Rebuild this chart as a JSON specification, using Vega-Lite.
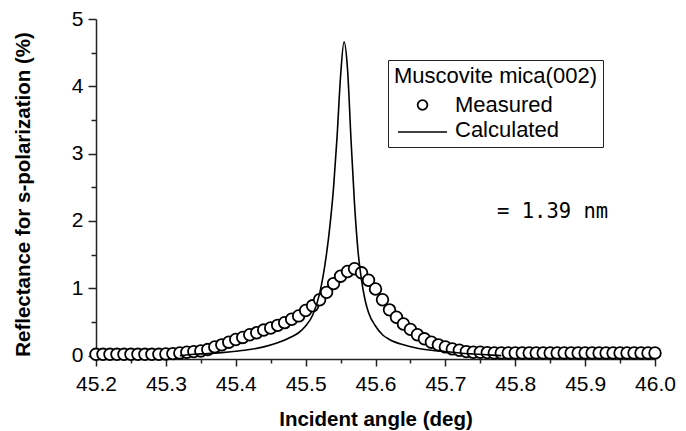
{
  "$schema": "https://vega.github.io/schema/vega-lite/v6.json",
  "width": 559,
  "height": 340,
  "autosize": {"type": "none"},
  "padding": {"left": 96, "top": 19, "right": 31, "bottom": 72},
  "background": "white",
  "config": {"view": {"stroke": null}, "font": "Liberation Sans"},
  "datasets": {
    "measured": [
      {"angle": 45.20, "reflectance": 0.02}, {"angle": 45.21, "reflectance": 0.02}, {"angle": 45.22, "reflectance": 0.02},
      {"angle": 45.23, "reflectance": 0.02}, {"angle": 45.24, "reflectance": 0.02}, {"angle": 45.25, "reflectance": 0.02},
      {"angle": 45.26, "reflectance": 0.02}, {"angle": 45.27, "reflectance": 0.02}, {"angle": 45.28, "reflectance": 0.02},
      {"angle": 45.29, "reflectance": 0.02}, {"angle": 45.30, "reflectance": 0.025}, {"angle": 45.31, "reflectance": 0.03},
      {"angle": 45.32, "reflectance": 0.04}, {"angle": 45.33, "reflectance": 0.05}, {"angle": 45.34, "reflectance": 0.06},
      {"angle": 45.35, "reflectance": 0.07}, {"angle": 45.36, "reflectance": 0.09}, {"angle": 45.37, "reflectance": 0.13},
      {"angle": 45.38, "reflectance": 0.16}, {"angle": 45.39, "reflectance": 0.20}, {"angle": 45.40, "reflectance": 0.24},
      {"angle": 45.41, "reflectance": 0.27}, {"angle": 45.42, "reflectance": 0.31}, {"angle": 45.43, "reflectance": 0.34},
      {"angle": 45.44, "reflectance": 0.38}, {"angle": 45.45, "reflectance": 0.41}, {"angle": 45.46, "reflectance": 0.45},
      {"angle": 45.47, "reflectance": 0.49}, {"angle": 45.48, "reflectance": 0.54}, {"angle": 45.49, "reflectance": 0.59},
      {"angle": 45.50, "reflectance": 0.67}, {"angle": 45.51, "reflectance": 0.74}, {"angle": 45.52, "reflectance": 0.83},
      {"angle": 45.53, "reflectance": 0.94}, {"angle": 45.54, "reflectance": 1.07}, {"angle": 45.55, "reflectance": 1.18},
      {"angle": 45.56, "reflectance": 1.25}, {"angle": 45.57, "reflectance": 1.29}, {"angle": 45.58, "reflectance": 1.23},
      {"angle": 45.59, "reflectance": 1.12}, {"angle": 45.60, "reflectance": 0.99}, {"angle": 45.61, "reflectance": 0.83},
      {"angle": 45.62, "reflectance": 0.68}, {"angle": 45.63, "reflectance": 0.57}, {"angle": 45.64, "reflectance": 0.47},
      {"angle": 45.65, "reflectance": 0.39}, {"angle": 45.66, "reflectance": 0.31}, {"angle": 45.67, "reflectance": 0.25},
      {"angle": 45.68, "reflectance": 0.20}, {"angle": 45.69, "reflectance": 0.16}, {"angle": 45.70, "reflectance": 0.13},
      {"angle": 45.71, "reflectance": 0.10}, {"angle": 45.72, "reflectance": 0.08}, {"angle": 45.73, "reflectance": 0.06},
      {"angle": 45.74, "reflectance": 0.05}, {"angle": 45.75, "reflectance": 0.05}, {"angle": 45.76, "reflectance": 0.045},
      {"angle": 45.77, "reflectance": 0.04}, {"angle": 45.78, "reflectance": 0.04}, {"angle": 45.79, "reflectance": 0.04},
      {"angle": 45.80, "reflectance": 0.04}, {"angle": 45.81, "reflectance": 0.04}, {"angle": 45.82, "reflectance": 0.04},
      {"angle": 45.83, "reflectance": 0.04}, {"angle": 45.84, "reflectance": 0.04}, {"angle": 45.85, "reflectance": 0.04},
      {"angle": 45.86, "reflectance": 0.04}, {"angle": 45.87, "reflectance": 0.04}, {"angle": 45.88, "reflectance": 0.04},
      {"angle": 45.89, "reflectance": 0.04}, {"angle": 45.90, "reflectance": 0.04}, {"angle": 45.91, "reflectance": 0.04},
      {"angle": 45.92, "reflectance": 0.04}, {"angle": 45.93, "reflectance": 0.04}, {"angle": 45.94, "reflectance": 0.04},
      {"angle": 45.95, "reflectance": 0.04}, {"angle": 45.96, "reflectance": 0.04}, {"angle": 45.97, "reflectance": 0.04},
      {"angle": 45.98, "reflectance": 0.04}, {"angle": 45.99, "reflectance": 0.04}, {"angle": 46.00, "reflectance": 0.04}
    ],
    "calculated": [
      {"angle": 45.32, "reflectance": 0.0}, {"angle": 45.34, "reflectance": 0.02}, {"angle": 45.36, "reflectance": 0.03},
      {"angle": 45.38, "reflectance": 0.045}, {"angle": 45.40, "reflectance": 0.065}, {"angle": 45.42, "reflectance": 0.09},
      {"angle": 45.44, "reflectance": 0.13}, {"angle": 45.46, "reflectance": 0.19}, {"angle": 45.48, "reflectance": 0.28},
      {"angle": 45.49, "reflectance": 0.34}, {"angle": 45.50, "reflectance": 0.44}, {"angle": 45.51, "reflectance": 0.60},
      {"angle": 45.52, "reflectance": 0.92}, {"angle": 45.525, "reflectance": 1.18}, {"angle": 45.53, "reflectance": 1.52},
      {"angle": 45.535, "reflectance": 1.95}, {"angle": 45.54, "reflectance": 2.50}, {"angle": 45.545, "reflectance": 3.25},
      {"angle": 45.55, "reflectance": 4.15}, {"angle": 45.555, "reflectance": 4.66}, {"angle": 45.56, "reflectance": 4.25},
      {"angle": 45.565, "reflectance": 3.20}, {"angle": 45.57, "reflectance": 2.25}, {"angle": 45.575, "reflectance": 1.55},
      {"angle": 45.58, "reflectance": 1.12}, {"angle": 45.585, "reflectance": 0.83}, {"angle": 45.59, "reflectance": 0.64},
      {"angle": 45.60, "reflectance": 0.44}, {"angle": 45.61, "reflectance": 0.31}, {"angle": 45.62, "reflectance": 0.24},
      {"angle": 45.64, "reflectance": 0.16}, {"angle": 45.66, "reflectance": 0.11}, {"angle": 45.68, "reflectance": 0.08},
      {"angle": 45.70, "reflectance": 0.06}, {"angle": 45.72, "reflectance": 0.04}, {"angle": 45.74, "reflectance": 0.025},
      {"angle": 45.76, "reflectance": 0.012}, {"angle": 45.78, "reflectance": 0.0}
    ]
  },
  "layer": [
    {
      "data": {"name": "measured"},
      "mark": {"type": "point", "filled": false, "fill": "white", "fillOpacity": 1, "stroke": "black", "strokeWidth": 1.8, "size": 135, "opacity": 1},
      "encoding": {
        "x": {
          "field": "angle", "type": "quantitative",
          "scale": {"domain": [45.2, 46.0], "nice": false, "zero": false},
          "axis": {
            "orient": "bottom",
            "values": [45.2, 45.3, 45.4, 45.5, 45.6, 45.7, 45.8, 45.9, 46.0],
            "format": ".1f", "grid": false,
            "labelFont": "Liberation Sans", "labelFontSize": 21, "labelColor": "black", "labelPadding": 7,
            "labelFlush": false, "labelOverlap": false,
            "tickSize": 7, "tickWidth": 1.5, "tickColor": "#222",
            "domainColor": "#222", "domainWidth": 1.5,
            "title": "Incident angle (deg)", "titleFont": "Liberation Sans", "titleFontSize": 20.5,
            "titleFontWeight": "bold", "titleColor": "black",
            "titleBaseline": "alphabetic", "titleY": 66
          }
        },
        "y": {
          "field": "reflectance", "type": "quantitative",
          "scale": {"domain": [-0.05, 5], "nice": false, "zero": false},
          "axis": {
            "orient": "left",
            "values": [0, 1, 2, 3, 4, 5],
            "format": "d", "grid": false,
            "labelFont": "Liberation Sans", "labelFontSize": 21, "labelColor": "black", "labelPadding": 5,
            "labelFlush": false, "labelOverlap": false,
            "tickSize": 8, "tickWidth": 1.5, "tickColor": "#222",
            "domainColor": "#222", "domainWidth": 1.5,
            "title": "Reflectance for s-polarization (%)", "titleFont": "Liberation Sans", "titleFontSize": 20.5,
            "titleFontWeight": "bold", "titleColor": "black",
            "titleAngle": -90, "titleAlign": "center", "titleBaseline": "alphabetic",
            "titleX": -67, "titleY": 175
          }
        },
        "shape": {
          "datum": "Measured",
          "type": "nominal",
          "scale": {"domain": ["Measured", "Calculated"], "range": ["circle", "stroke"]},
          "legend": {
            "orient": "none", "legendX": 292, "legendY": 41,
            "title": "Muscovite mica(002)", "titleLimit": 400,
            "titleFont": "Liberation Sans", "titleFontSize": 22, "titleFontWeight": "normal", "titleColor": "black",
            "titlePadding": 6,
            "labelFont": "Liberation Sans", "labelFontSize": 22, "labelColor": "black", "labelLimit": 300,
            "symbolSize": 400, "rowPadding": 3, "padding": 6,
            "labelOffset": 39,
            "strokeColor": "#222",
            "symbolOpacity": 0
          }
        }
      }
    },
    {
      "data": {"name": "calculated"},
      "mark": {"type": "line", "color": "black", "strokeWidth": 1.6, "interpolate": "monotone"},
      "encoding": {
        "x": {
          "field": "angle", "type": "quantitative",
          "axis": {
            "orient": "bottom",
            "values": [45.25, 45.35, 45.45, 45.55, 45.65, 45.75, 45.85, 45.95],
            "labels": false, "domain": false, "grid": false, "title": null,
            "tickSize": 4, "tickWidth": 1.5, "tickColor": "#222"
          }
        },
        "y": {
          "field": "reflectance", "type": "quantitative",
          "axis": {
            "orient": "left",
            "values": [0.5, 1.5, 2.5, 3.5, 4.5],
            "labels": false, "domain": false, "grid": false, "title": null,
            "tickSize": 5, "tickWidth": 1.5, "tickColor": "#222"
          }
        }
      }
    },
    {
      "data": {"values": [{"series": "Measured"}]},
      "mark": {"type": "point", "shape": "circle", "filled": false, "stroke": "black", "strokeWidth": 1.8, "size": 95, "opacity": 1},
      "encoding": {
        "x": {"datum": 45.6673, "type": "quantitative", "axis": null},
        "y": {"datum": 3.7227, "type": "quantitative", "axis": null}
      }
    },
    {
      "data": {"values": [{"series": "Calculated"}]},
      "mark": {"type": "rule", "color": "black", "strokeWidth": 1.6},
      "encoding": {
        "x": {"datum": 45.6322, "type": "quantitative", "axis": null},
        "x2": {"datum": 45.7023},
        "y": {"datum": 3.3216, "type": "quantitative", "axis": null}
      }
    },
    {
      "data": {"values": [{"label": "= 1.39 nm"}]},
      "mark": {"type": "text", "font": "DejaVu Sans Mono", "fontSize": 20.5, "align": "left", "baseline": "middle", "color": "black"},
      "encoding": {
        "x": {"datum": 45.774, "type": "quantitative", "axis": null},
        "y": {"datum": 2.14, "type": "quantitative", "axis": null},
        "text": {"field": "label", "type": "nominal"}
      }
    }
  ],
  "resolve": {"axis": {"x": "independent", "y": "independent"}}
}
